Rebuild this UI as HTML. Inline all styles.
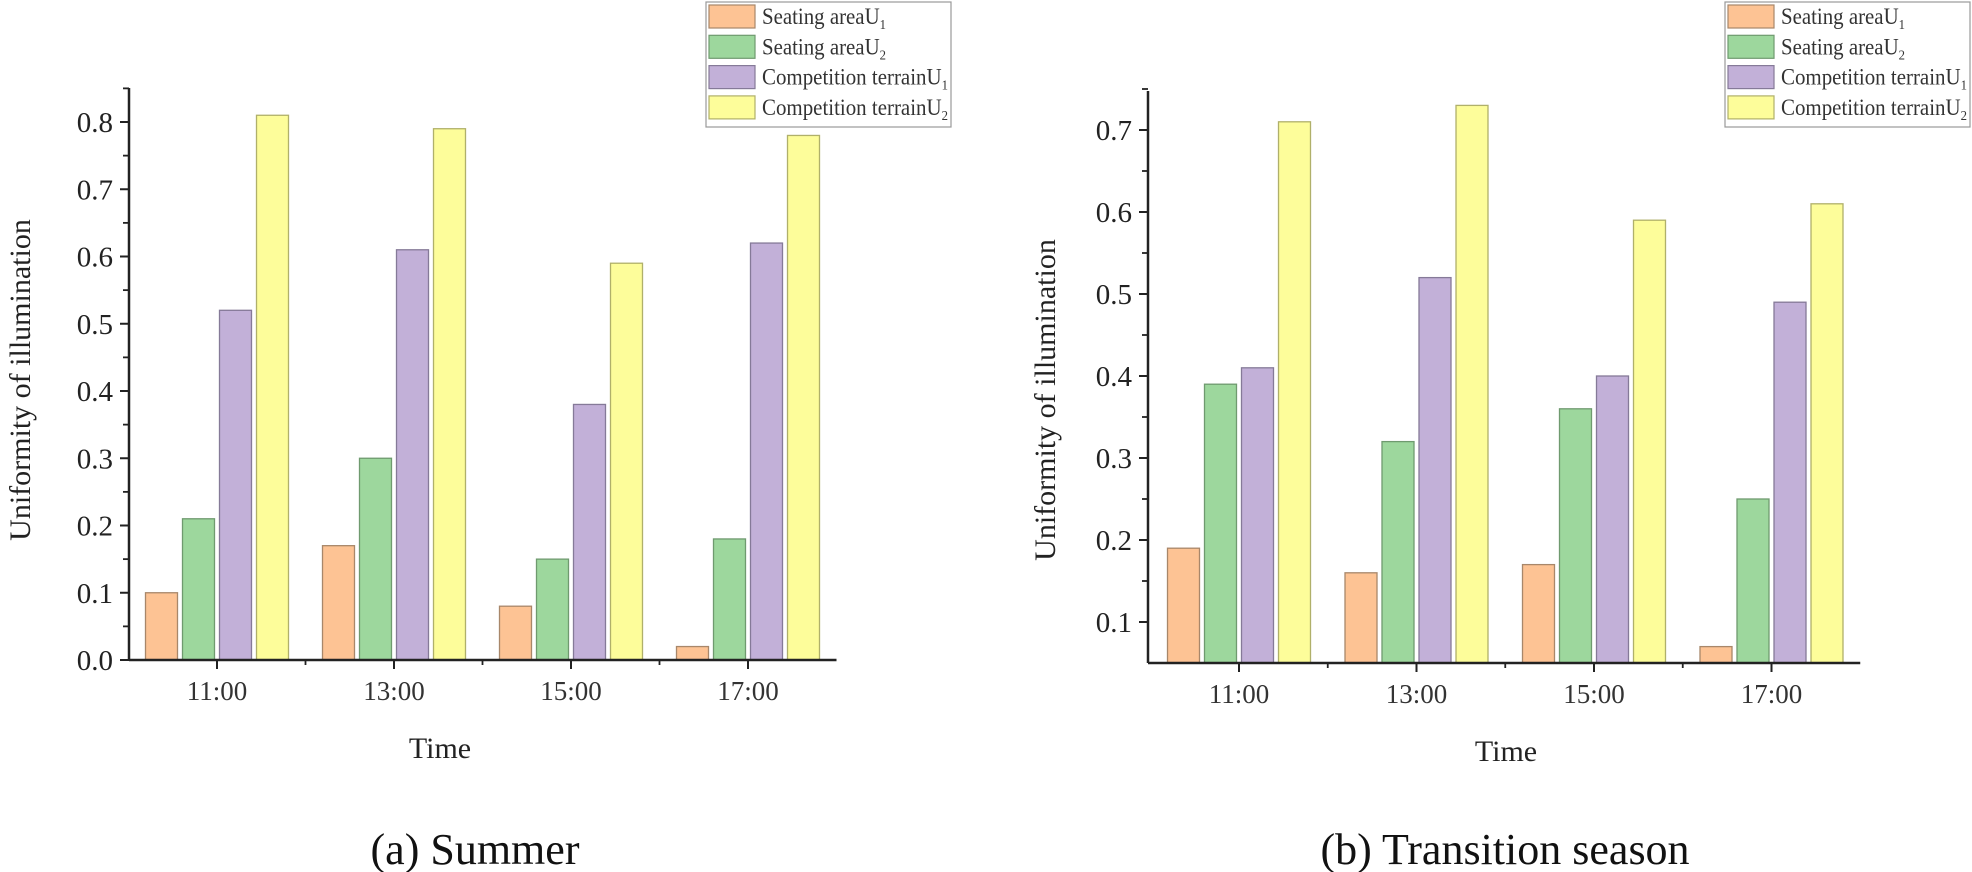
<!DOCTYPE html>
<html><head><meta charset="utf-8"><style>
html,body{margin:0;padding:0;background:#fff}
svg{display:block;font-family:"Liberation Serif",serif}
</style></head><body>
<svg id="fig" width="1972" height="872" viewBox="0 0 1972 872"></svg>
<script>
const categories=["11:00","13:00","15:00","17:00"];
const seriesNames=["Seating areaU","Seating areaU","Competition terrainU","Competition terrainU"];
const seriesSubs=["1","2","1","2"];
const summerSeat1=[0.10,0.17,0.08,0.02];
const summerSeat2=[0.21,0.30,0.15,0.18];
const summerComp1=[0.52,0.61,0.38,0.62];
const summerComp2=[0.81,0.79,0.59,0.78];
const transSeat1=[0.19,0.16,0.17,0.07];
const transSeat2=[0.39,0.32,0.36,0.25];
const transComp1=[0.41,0.52,0.40,0.49];
const transComp2=[0.71,0.73,0.59,0.61];
const summerTicks=["0.0","0.1","0.2","0.3","0.4","0.5","0.6","0.7","0.8"];
const transTicks=["0.1","0.2","0.3","0.4","0.5","0.6","0.7"];
const colors=["#fdc394","#9dd79d","#c2b0d8","#fdfd9a"];
const strokes=["#a8876a","#6f9a6f","#857a98","#b0b06a"];
const NS="http://www.w3.org/2000/svg";
const svg=document.getElementById('fig');
function mk(tag,attrs,parent){const e=document.createElementNS(NS,tag);for(const k in attrs)e.setAttribute(k,attrs[k]);(parent||svg).appendChild(e);return e;}

function chart(cfg){
  const g=mk('g',{});
  
  
  const y=v=>cfg.y0-(v-cfg.vmin)*cfg.ppu;
  const xc=i=>cfg.cat0+i*cfg.period;
  const barW=32,barStep=37;
  cfg.series.forEach((vals,si)=>{
    vals.forEach((v,ci)=>{
      const x=xc(ci)+(si-2)*barStep+2.5;
      const r=mk('rect',{x:x,y:y(v),width:barW,height:cfg.y0-y(v),fill:colors[si],stroke:strokes[si],'stroke-width':1.3},g);
      
      
    });
  });
  const ax=mk('line',{x1:cfg.ax,y1:cfg.axTop,x2:cfg.ax,y2:cfg.y0,stroke:'#222','stroke-width':2.5},g);
  
  
  const axR=xc(categories.length-1)+cfg.period/2;
  const bx=mk('line',{x1:cfg.ax,y1:cfg.y0,x2:axR,y2:cfg.y0,stroke:'#222','stroke-width':2.5},g);
  
  
  cfg.ticks.forEach(t=>{
    const v=parseFloat(t),yy=y(v);
    mk('line',{x1:cfg.ax-9,y1:yy,x2:cfg.ax,y2:yy,stroke:'#222','stroke-width':2},g);
    const tx=mk('text',{x:cfg.ax-16,y:yy+10,'font-size':29,'text-anchor':'end',fill:'#222'},g);
    tx.textContent=t;
    
    
    const mv=v+0.05;
    if(y(mv)>=cfg.axTop-1) mk('line',{x1:cfg.ax-6,y1:y(mv),x2:cfg.ax,y2:y(mv),stroke:'#222','stroke-width':1.8},g);
  });
  if(cfg.extraMinor!==undefined) mk('line',{x1:cfg.ax-6,y1:y(cfg.extraMinor),x2:cfg.ax,y2:y(cfg.extraMinor),stroke:'#222','stroke-width':1.8},g);
  categories.forEach((c,i)=>{
    const cx=xc(i);
    mk('line',{x1:cx,y1:cfg.y0,x2:cx,y2:cfg.y0+9,stroke:'#222','stroke-width':2},g);
    if(i<categories.length-1) mk('line',{x1:cx+cfg.period/2,y1:cfg.y0,x2:cx+cfg.period/2,y2:cfg.y0+5,stroke:'#222','stroke-width':1.8},g);
    const t=mk('text',{x:cx,y:cfg.y0+40,'font-size':27,'text-anchor':'middle',fill:'#333'},g);
    t.textContent=c;
    
    
  });
  const xt=mk('text',{x:cfg.xTitleX,y:cfg.y0+98,'font-size':30,'text-anchor':'middle',fill:'#222'},g);
  xt.textContent='Time';
  
  
  const yt=mk('text',{x:0,y:0,'font-size':30,'text-anchor':'middle',fill:'#222',transform:`translate(${cfg.yTitleX},${cfg.yTitleY}) rotate(-90)`},g);
  yt.textContent='Uniformity of illumination';
  
  
  const lg=mk('g',{},g);
  
  
  mk('rect',{x:cfg.legX,y:2,width:245,height:125,fill:'#fff',stroke:'#999','stroke-width':1.2},lg);
  const lens=[124,124,186,186];
  seriesNames.forEach((n,i)=>{
    const yy=5+i*30.3;
    const sw=mk('rect',{x:cfg.legX+3,y:yy,width:46,height:23,fill:colors[i],stroke:strokes[i],'stroke-width':1.2},lg);
    
    
    const t=mk('text',{x:cfg.legX+56,y:yy+19,'font-size':23,fill:'#333',textLength:lens[i],lengthAdjust:'spacingAndGlyphs'},lg);
    
    
    t.textContent=n;
    const s=mk('tspan',{'font-size':14,dy:5},t);s.textContent=seriesSubs[i];
  });
  const cap=mk('text',{x:cfg.capX,y:864,'font-size':44,'text-anchor':'middle',fill:'#111'},g);
  cap.textContent=cfg.caption;
  
  
}
chart({name:'summer-chart',series:[summerSeat1,summerSeat2,summerComp1,summerComp2],ticks:summerTicks,
  vmin:0,y0:660,ppu:672.5,ax:129,axTop:88,cat0:217,period:177,
  xTitleX:440,yTitleX:30,yTitleY:380,legX:706,capX:475,caption:'(a) Summer'});
chart({name:'transition-chart',series:[transSeat1,transSeat2,transComp1,transComp2],ticks:transTicks,
  vmin:0.05,y0:663,ppu:820,ax:1148,axTop:91,cat0:1239,period:177.5,extraMinor:0.75,
  xTitleX:1506,yTitleX:1055,yTitleY:400,legX:1725,capX:1505,caption:'(b) Transition season'});
</script>
</body></html>
